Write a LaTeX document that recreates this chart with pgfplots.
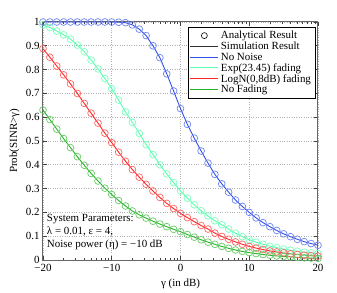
\documentclass[border=0pt]{standalone}
\usepackage{pgfplots}
\pgfplotsset{compat=1.18}
\usepackage{pgfplotstable}
\usepackage{fontspec}
\setmainfont{Liberation Serif}
\definecolor{cBlue}{RGB}{50,80,235}
\definecolor{cCyan}{RGB}{90,255,175}
\definecolor{cRed}{RGB}{255,35,35}
\definecolor{cGreen}{RGB}{40,180,40}
\pgfplotstableread{
x y
-20 1
-19 1
-18 1
-17 1
-16 1
-15 1
-14 1
-13 1
-12 1
-11 1
-10 1
-9 0.999
-8 0.997
-7 0.988
-6 0.970
-5 0.943
-4 0.900
-3 0.850
-2 0.782
-1 0.710
0 0.636
1 0.570
2 0.512
3 0.458
4 0.407
5 0.360
6 0.320
7 0.285
8 0.252
9 0.225
10 0.200
11 0.177
12 0.157
13 0.140
14 0.124
15 0.110
16 0.098
17 0.087
18 0.077
19 0.069
20 0.062
}\tblue
\pgfplotstableread{
x y
-20 0.988
-19 0.977
-18 0.962
-17 0.946
-16 0.928
-15 0.903
-14 0.875
-13 0.840
-12 0.803
-11 0.762
-10 0.720
-9 0.672
-8 0.622
-7 0.578
-6 0.532
-5 0.485
-4 0.443
-3 0.400
-2 0.362
-1 0.325
0 0.290
1 0.260
2 0.232
3 0.207
4 0.185
5 0.165
6 0.148
7 0.130
8 0.113
9 0.098
10 0.085
11 0.075
12 0.066
13 0.058
14 0.052
15 0.046
16 0.041
17 0.037
18 0.033
19 0.030
20 0.027
}\tcyan
\pgfplotstableread{
x y
-20 0.888
-19 0.852
-18 0.815
-17 0.778
-16 0.740
-15 0.700
-14 0.658
-13 0.617
-12 0.575
-11 0.533
-10 0.493
-9 0.453
-8 0.415
-7 0.380
-6 0.348
-5 0.318
-4 0.290
-3 0.263
-2 0.238
-1 0.216
0 0.196
1 0.178
2 0.161
3 0.145
4 0.130
5 0.113
6 0.099
7 0.087
8 0.076
9 0.066
10 0.057
11 0.050
12 0.044
13 0.038
14 0.034
15 0.030
16 0.026
17 0.023
18 0.020
19 0.018
20 0.016
}\tred
\pgfplotstableread{
x y
-20 0.630
-19 0.590
-18 0.550
-17 0.510
-16 0.472
-15 0.434
-14 0.398
-13 0.364
-12 0.332
-11 0.302
-10 0.275
-9 0.250
-8 0.227
-7 0.206
-6 0.190
-5 0.176
-4 0.163
-3 0.151
-2 0.140
-1 0.129
0 0.119
1 0.107
2 0.096
3 0.085
4 0.075
5 0.066
6 0.057
7 0.049
8 0.042
9 0.036
10 0.031
11 0.027
12 0.023
13 0.020
14 0.017
15 0.015
16 0.013
17 0.011
18 0.009
19 0.008
20 0.007
}\tgreen
\begin{document}
\begin{tikzpicture}
\useasboundingbox (0,0) rectangle (337bp,293bp);
\begin{axis}[
  at={(43bp,33bp)}, anchor=south west,
  scale only axis, width=275bp, height=238bp,
  xmin=-20, xmax=20, ymin=0, ymax=1,
  xtick={-20,-10,0,10,20},
  xticklabels={−20,−10,0,10,20},
  ytick={0,0.1,0.2,0.3,0.4,0.5,0.6,0.7,0.8,0.9,1},
  yticklabels={0,0.1,0.2,0.3,0.4,0.5,0.6,0.7,0.8,0.9,1},
  minor xtick={-16.99,-15.23,-13.98,-13.01,-12.22,-11.55,-10.97,-10.46,
               -6.99,-5.23,-3.98,-3.01,-2.22,-1.55,-0.97,-0.46,
               3.01,4.77,6.02,6.99,7.78,8.45,9.03,9.54,
               13.01,14.77,16.02,16.99,17.78,18.45,19.03,19.54},
  tick align=inside,
  major tick length=4bp, minor tick length=2bp,
  tick style={black!75, line width=0.6bp},
  axis line style={black!60, line width=1bp},
  grid=major,
  major grid style={black!30, dotted, line width=0.6bp},
  font=\fontsize{11}{13}\selectfont,
  ticklabel style={font=\fontsize{11}{13}\selectfont},
  xticklabel style={yshift=-1bp},
  xlabel={γ (in dB)},
  ylabel={Prob(SINR>γ)},
  xlabel style={at={(axis description cs:0.5,0)}, anchor=north, yshift=-15bp},
  ylabel style={at={(axis description cs:0,0.5)}, anchor=south, yshift=20bp},
  legend cell align=left,
  legend image code/.code={\draw[mark repeat=2,mark phase=2,#1] plot coordinates {(0bp,0bp)(14bp,0bp)(28bp,0bp)};},
  legend style={at={(rel axis cs:0.99,0.98)}, anchor=north east, draw=black, line width=0.6bp,
    font=\fontsize{11}{13}\selectfont, row sep=-2.2bp, inner sep=2bp, fill=white},
  clip=true,
]
\addlegendimage{only marks, mark=o, black, mark size=3bp, line width=0.6bp}
\addlegendentry{Analytical Result}
\addlegendimage{black!80, line width=1bp}
\addlegendentry{Simulation Result}
\addlegendimage{cBlue, line width=1bp}
\addlegendentry{No Noise}
\addlegendimage{cCyan, line width=1bp}
\addlegendentry{Exp(23.45) fading}
\addlegendimage{cRed, line width=1bp}
\addlegendentry{LogN(0,8dB) fading}
\addlegendimage{cGreen, line width=1bp}
\addlegendentry{No Fading}

\addplot[forget plot, cBlue, line width=0.9bp] table[x=x,y=y] {\tblue};
\addplot[forget plot, only marks, mark=o, mark size=3.4bp, draw=cBlue!70!white, line width=0.7bp] table[x=x,y=y] {\tblue};
\addplot[forget plot, cCyan, line width=0.9bp] table[x=x,y=y] {\tcyan};
\addplot[forget plot, only marks, mark=o, mark size=3.4bp, draw=cCyan!80!white, line width=0.7bp] table[x=x,y=y] {\tcyan};
\addplot[forget plot, cRed, line width=0.9bp] table[x=x,y=y] {\tred};
\addplot[forget plot, only marks, mark=o, mark size=3.4bp, draw=cRed!70!white, line width=0.7bp] table[x=x,y=y] {\tred};
\addplot[forget plot, cGreen, line width=0.9bp] table[x=x,y=y] {\tgreen};
\addplot[forget plot, only marks, mark=o, mark size=3.4bp, draw=cGreen!70!white, line width=0.7bp] table[x=x,y=y] {\tgreen};

\node[anchor=south west, align=left, inner sep=0pt, font=\fontsize{11}{13.5}\selectfont]
  at (axis cs:-19.45,0.04) {System Parameters:\\λ = 0.01, ε = 4,\\Noise power (η) = −10 dB};
\end{axis}
\end{tikzpicture}
\end{document}
